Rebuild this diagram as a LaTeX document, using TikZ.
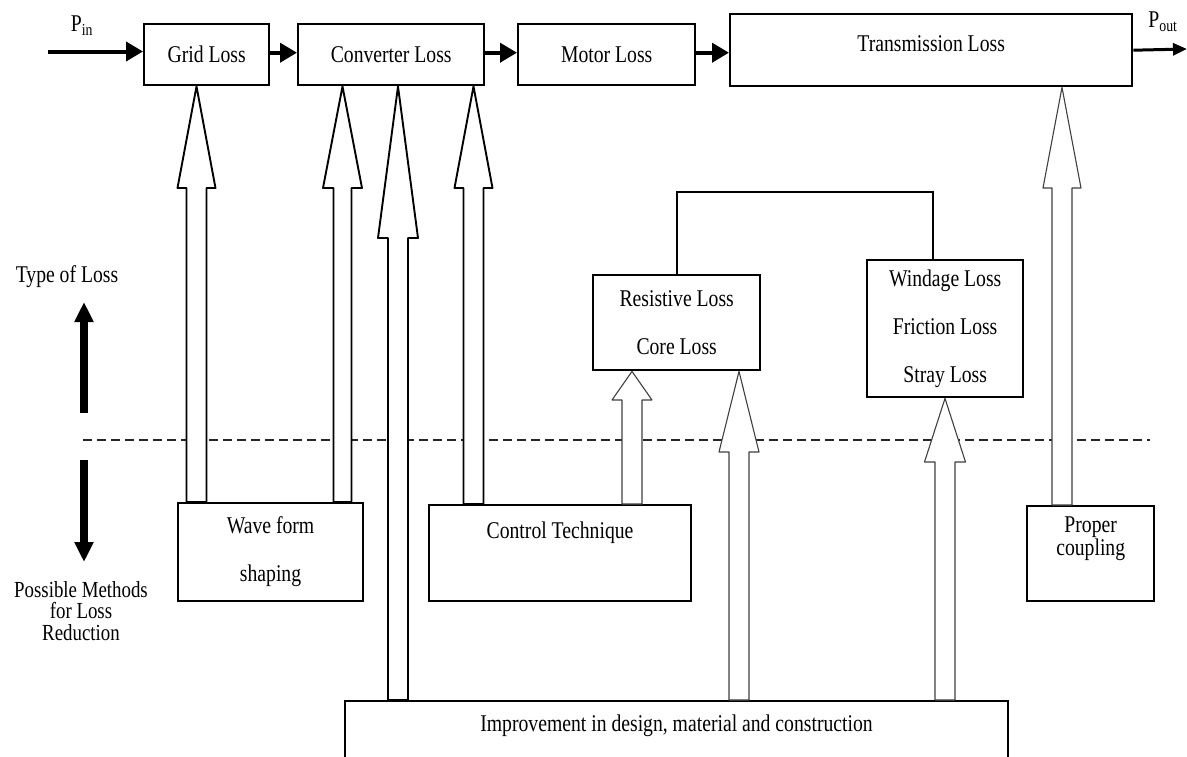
\documentclass[tikz,border=0pt]{standalone}
\usepackage{fontspec}
\setmainfont[FakeStretch=0.82]{Liberation Serif}
\usetikzlibrary{arrows.meta,calc}
\tikzset{
  every node/.style={font=\fontsize{24}{26}\selectfont},
  box/.style={draw, line width=2.4pt, rectangle, inner sep=0pt, anchor=north west, align=center},
  lbox/.style={draw, line width=2.1pt, rectangle, inner sep=0pt, anchor=north west, align=center},
  txt/.style={inner sep=0pt, align=center},
  flow/.style={line width=4pt, -{Triangle[length=17pt,width=19pt]}},
  flowout/.style={line width=3pt, -{Triangle[length=14pt,width=12pt]}},
  bigarrow/.style={line width=8pt, -{Triangle[length=20pt,width=18pt]}},
  dashline/.style={line width=1.3pt, dash pattern=on 9pt off 5pt, black!85},
  bk/.style={draw=black, line width=1.9pt, fill=white, line join=round},
  bg/.style={draw=black!75, line width=1.1pt, fill=white, line join=round}
}
% block arrow: [style]{x}{top node}{bottom node}{head base y}{head half width}{shaft half width}
\newcommand\blk[7][]{%
  \draw[#1] (#2,0 |- #3.south) -- (#2+#6,#5) -- (#2+#7,#5) -- (#2+#7,0 |- #4.north)
    -- (#2-#7,0 |- #4.north) -- (#2-#7,#5) -- (#2-#6,#5) -- cycle;}
\begin{document}
\begin{tikzpicture}[x=1pt,y=-1pt]
\useasboundingbox (0,0) rectangle (1187,756);

% dashed separator
\coordinate (dl) at (83,440);
\coordinate (dr) at (1150,440);
\draw[dashline] (dl) -- (dr);

% top row
\node[box, minimum width=125pt, minimum height=61pt] (grid) at (143,23) {Grid Loss};
\node[box, minimum width=186pt, minimum height=61pt] (conv) at (297,23) {Converter Loss};
\node[box, minimum width=177pt, minimum height=61pt] (motor) at (517,23) {Motor Loss};
\node[box, minimum width=402pt, text height=16pt, text depth=14pt, inner ysep=21pt] (trans) at (729,13) {Transmission Loss};

% labels
\node[txt] (pinl) at (82,26) {P\textsubscript{in}};
\node[txt] (poutl) at (1163,22) {P\textsubscript{out}};

% loss boxes
\node[box, minimum width=167pt, minimum height=95pt] (res) at (592,274) {Resistive Loss\\[22pt]Core Loss};
\node[box, minimum width=156pt, minimum height=137pt] (wind) at (866,259) {Windage Loss\\[22pt]Friction Loss\\[22pt]Stray Loss};

% method boxes
\node[lbox, minimum width=185pt, minimum height=98pt] (wave) at (177,502) {Wave form\\[22pt]shaping};
\node[lbox, minimum width=262pt, text height=16pt, text depth=46pt, inner ysep=17pt] (ctrl) at (428,504) {Control Technique};
\node[box] (prop) at (1026,505) {\parbox[t][95pt][t]{127pt}{\centering\fontsize{24}{21}\selectfont\vspace*{11pt}Proper\\coupling}};
\node[lbox, minimum width=663pt, text height=16pt, text depth=70pt, inner ysep=14pt] (imp) at (344,700) {Improvement in design, material and construction};

% side labels
\node[txt] (typel) at (67,277) {Type of Loss};
\node[txt, font=\fontsize{23}{21.5}\selectfont] (methl) at (81,611) {Possible Methods\\for Loss\\Reduction};
\coordinate (ua) at (84,413);
\coordinate (ub) at (84,302);
\coordinate (da) at (84,460);
\coordinate (db) at (84,562);
\draw[bigarrow] (ua) -- (ub);
\draw[bigarrow] (da) -- (db);

% power flow
\coordinate (pin) at (48,51.5);
\coordinate (pout) at (1187,49);
\draw[flow] (pin) -- (pin -| grid.west);
\draw[flow] ([yshift=2pt]grid.east) -- ([yshift=2pt]grid.east -| conv.west);
\draw[flow] ([yshift=2pt]conv.east) -- ([yshift=2pt]conv.east -| motor.west);
\draw[flow] ([yshift=2pt]motor.east) -- ([yshift=2pt]motor.east -| trans.west);
\draw[flowout] (trans.east) -- (pout);

% bracket between loss boxes
\draw[line width=2pt] (res.north) -- ++(0,-82) -| ([xshift=-12pt]wind.north);

% block arrows
\blk[bk]{196.5}{grid}{wave}{188}{19}{10}
\blk[bk]{342.5}{conv}{wave}{188}{19.5}{9}
\blk[bk]{398}{conv}{imp}{238}{20}{10}
\blk[bk]{473.5}{conv}{ctrl}{188}{19}{10}
\blk[bg]{632}{res}{ctrl}{400}{20}{10}
\blk[bg]{739}{res}{imp}{452}{20}{10}
\blk[bg]{945}{wind}{imp}{462}{20.5}{10}
\blk[bg]{1062}{trans}{prop}{188}{19}{10}
\end{tikzpicture}
\end{document}
